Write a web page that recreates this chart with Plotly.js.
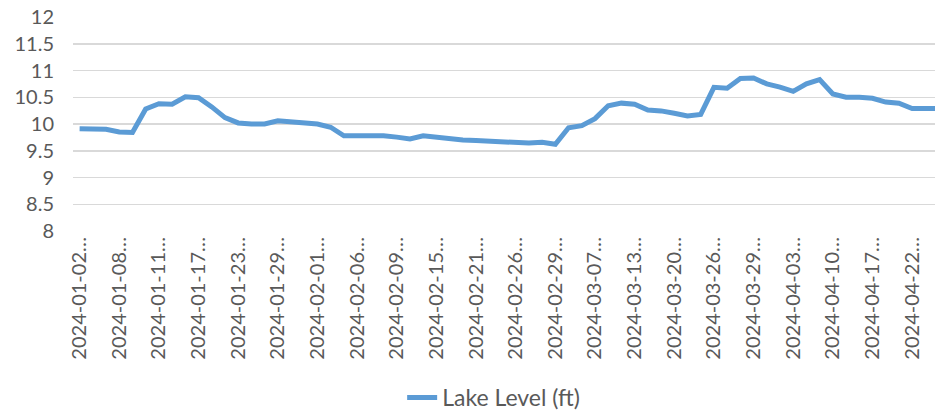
<!DOCTYPE html>
<html>
<head>
<meta charset="utf-8">
<script src="https://cdn.plot.ly/plotly-3.0.1.min.js"></script>
<style>html,body{margin:0;padding:0;background:#fff;}#chart{width:935px;height:419px;}</style>
</head>
<body>
<div id="chart"></div>
<script>
const dates = [
  "2024-01-02","2024-01-03","2024-01-05","2024-01-08","2024-01-09","2024-01-10",
  "2024-01-11","2024-01-12","2024-01-16","2024-01-17","2024-01-18","2024-01-19",
  "2024-01-23","2024-01-24","2024-01-26","2024-01-29","2024-01-30","2024-01-31",
  "2024-02-01","2024-02-02","2024-02-05","2024-02-06","2024-02-07","2024-02-08",
  "2024-02-09","2024-02-12","2024-02-13","2024-02-15","2024-02-16","2024-02-20",
  "2024-02-21","2024-02-22","2024-02-23","2024-02-26","2024-02-27","2024-02-28",
  "2024-02-29","2024-03-04","2024-03-05","2024-03-07","2024-03-08","2024-03-11",
  "2024-03-13","2024-03-14","2024-03-18","2024-03-20","2024-03-21","2024-03-25",
  "2024-03-26","2024-03-27","2024-03-28","2024-03-29","2024-04-01","2024-04-02",
  "2024-04-03","2024-04-05","2024-04-08","2024-04-10","2024-04-12","2024-04-15",
  "2024-04-17","2024-04-18","2024-04-19","2024-04-22","2024-04-23","2024-04-24"
];
const lakeLevel = [
  9.91, 9.91, 9.90, 9.85, 9.84, 10.28, 10.38, 10.37, 10.51, 10.49,
  10.32, 10.12, 10.02, 10.00, 10.00, 10.06, 10.04, 10.00, 10.00, 9.94,
  9.78, 9.78, 9.78, 9.78, 9.755, 9.72, 9.78, 9.75, 9.72, 9.70,
  9.69, 9.675, 9.655, 9.64, 9.645, 9.66, 9.62, 9.93, 9.97, 10.10,
  10.34, 10.39, 10.37, 10.26, 10.245, 10.20, 10.15, 10.18, 10.685, 10.67,
  10.85, 10.86, 10.75, 10.69, 10.61, 10.75, 10.83, 10.56, 10.50, 10.50,
  10.48, 10.41, 10.39, 10.29, 10.29, 10.29
];
const tickDates = dates.filter((d, i) => i % 3 === 0);
const tickLabels = tickDates.map(d => d + "\u2026");
const yTicks = [8, 8.5, 9, 9.5, 10, 10.5, 11, 11.5, 12];
const seriesName = "Lake Level (ft)";

const FONT = "Lato, 'Liberation Sans', sans-serif";
const TEXT = "#595959";

Plotly.newPlot("chart", [{
  x: dates,
  y: lakeLevel,
  type: "scatter",
  mode: "lines",
  name: seriesName,
  line: {color: "#5b9bd5", width: 5, shape: "linear"},
  showlegend: true
}], {
  width: 935,
  height: 419,
  margin: {l: 73, r: 0, t: 17, b: 182, pad: 0},
  paper_bgcolor: "#ffffff",
  plot_bgcolor: "#ffffff",
  font: {family: FONT, color: TEXT, size: 20},
  xaxis: {
    type: "category",
    range: [-0.5, 64.73],
    tickmode: "array",
    tickvals: tickDates,
    ticktext: tickLabels,
    tickangle: -90,
    showgrid: false,
    zeroline: false,
    showline: false,
    ticks: "",
    ticklabelstandoff: 1,
    tickfont: {family: FONT, color: TEXT, size: 20}
  },
  yaxis: {
    range: [8, 12],
    tickmode: "array",
    tickvals: yTicks,
    ticktext: yTicks.map(String),
    showgrid: true,
    gridcolor: "#d9d9d9",
    gridwidth: 1.5,
    zeroline: false,
    showline: false,
    ticks: "",
    ticklabelstandoff: 18,
    tickfont: {family: FONT, color: TEXT, size: 20}
  },
  legend: {
    orientation: "h",
    x: 0.488,
    xanchor: "center",
    y: -0.78,
    yanchor: "middle",
    font: {family: FONT, color: TEXT, size: 23},
    bgcolor: "rgba(0,0,0,0)"
  },
  showlegend: true
}, {displayModeBar: false, staticPlot: true});
</script>
</body>
</html>
